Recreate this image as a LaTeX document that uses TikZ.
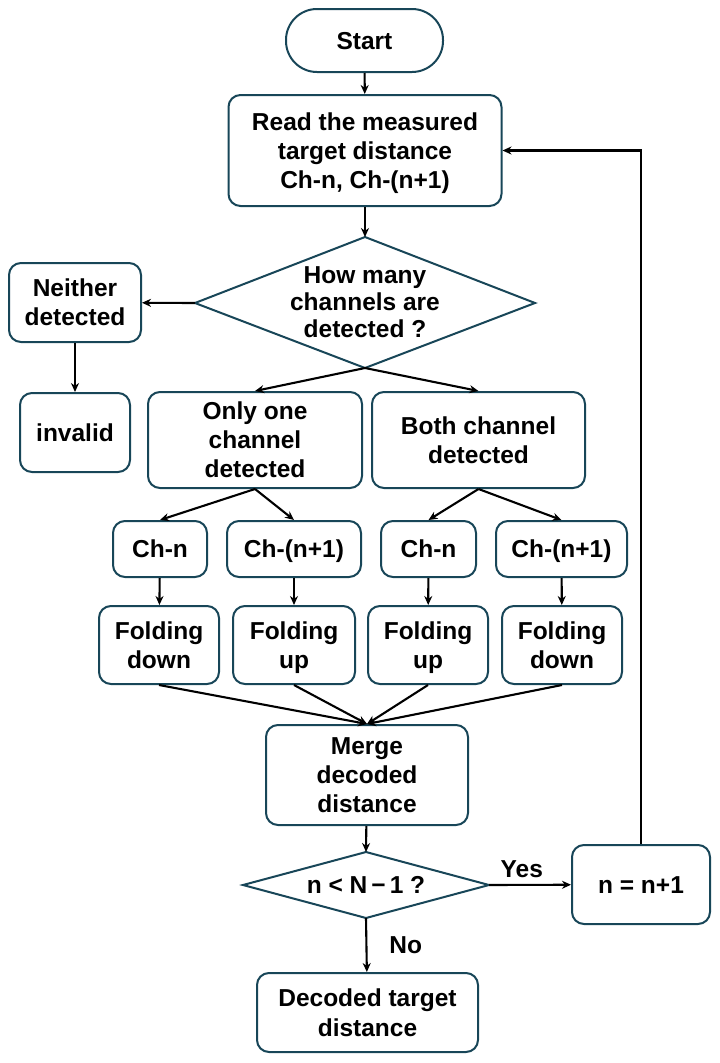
\documentclass[tikz,border=0pt]{standalone}
\usepackage{fontspec}
\setmainfont{Liberation Sans}
\usetikzlibrary{arrows.meta}
\definecolor{boxline}{RGB}{24,70,88}
\begin{document}
\begin{tikzpicture}[x=1pt,y=-1pt,
  txt/.style={font=\fontsize{24.5}{29}\selectfont\bfseries, align=center, inner sep=0pt},
  box/.style={txt, draw=boxline, line width=2pt, rounded corners=12pt, fill=white},
  one/.style={text height=17.5pt, text depth=0pt},
  diam/.style={draw=boxline, line width=2pt, fill=white, line join=miter},
  arr/.style={draw=black, line width=2.1pt, -{Stealth[length=9pt,width=8pt]}},
  lab/.style={txt}]
\useasboundingbox (0,0) rectangle (720,1063);

% nodes
\node[box, one, rounded corners=31pt, minimum width=157pt, minimum height=63pt] (start) at (364.5,40.5) {Start};
\node[box, minimum width=273pt, minimum height=111pt] (read) at (365,150.5) {Read the measured\\target distance\\\smash{Ch-n, Ch-(n+1)}};

% diamond 1
\coordinate (d1t) at (365,237);
\coordinate (d1r) at (535,303);
\coordinate (d1b) at (365,368);
\coordinate (d1l) at (195,303);
\draw[diam] (d1t) -- (d1r) -- (d1b) -- (d1l) -- cycle;
\node[txt, font=\fontsize{24.5}{27}\selectfont\bfseries] (q1) at (365,302) {How many\\channels are\\detected ?};

\node[box, minimum width=132pt, minimum height=79pt] (neither) at (75,302.5) {Neither\\detected};
\node[box, one, minimum width=110pt, minimum height=79pt] (invalid) at (75,432.5) {invalid};
\node[box, minimum width=214pt, minimum height=96pt] (only) at (255,440) {Only one\\channel\\detected};
\node[box, minimum width=213pt, minimum height=96pt] (both) at (478.5,440) {Both channel\\detected};

\node[box, one, minimum width=94pt, minimum height=56pt] (chn1) at (160,549) {Ch-n};
\node[box, one, minimum width=134pt, minimum height=56pt] (chm1) at (294,549) {Ch-(n+1)};
\node[box, one, minimum width=95pt, minimum height=56pt] (chn2) at (428.5,549) {Ch-n};
\node[box, one, minimum width=131pt, minimum height=56pt] (chm2) at (561.5,549) {Ch-(n+1)};

\node[box, minimum width=120pt, minimum height=78pt] (fd1) at (159,645) {Folding\\down};
\node[box, minimum width=122pt, minimum height=78pt] (fu1) at (294,645) {Folding\\\smash{up}};
\node[box, minimum width=120pt, minimum height=78pt] (fu2) at (428,645) {Folding\\\smash{up}};
\node[box, minimum width=120pt, minimum height=78pt] (fd2) at (562,645) {Folding\\down};

\node[box, minimum width=202pt, minimum height=100pt] (merge) at (367,775) {Merge\\decoded\\distance};

% diamond 2
\coordinate (d2t) at (366,852);
\coordinate (d2r) at (489,885);
\coordinate (d2b) at (366,918);
\coordinate (d2l) at (243,885);
\draw[diam] (d2t) -- (d2r) -- (d2b) -- (d2l) -- cycle;
\node[txt, one] (q2) at (366,885) {n < N\,−\,1 ?};

\node[box, one, minimum width=138pt, minimum height=79pt] (nn) at (641,884.5) {n = n+1};
\node[box, minimum width=221pt, minimum height=79pt, font=\fontsize{24.5}{30}\selectfont\bfseries] (dec) at (367.5,1012.5) {Decoded target\\distance};

% connectors
\draw[arr] (start) -- (read);
\draw[arr] (read) -- (d1t);
\draw[arr] (d1l) -- (neither);
\draw[arr] (neither) -- (invalid);
\draw[arr] (d1b) -- (only.north);
\draw[arr] (d1b) -- (both.north);
\draw[arr] (only.south) -- (chn1.north);
\draw[arr] (only.south) -- (chm1.north);
\draw[arr] (both.south) -- (chn2.north);
\draw[arr] (both.south) -- (chm2.north);
\draw[arr] (chn1) -- (fd1);
\draw[arr] (chm1) -- (fu1);
\draw[arr] (chn2) -- (fu2);
\draw[arr] (chm2) -- (fd2);
\draw[arr] (fd1.south) -- (merge.north);
\draw[arr] (fu1.south) -- (merge.north);
\draw[arr] (fu2.south) -- (merge.north);
\draw[arr] (fd2.south) -- (merge.north);
\draw[arr] (merge) -- (d2t);
\draw[arr] (d2r) -- (nn) node[lab, pos=0.4, above=6pt] (yes) {Yes};
\draw[arr] (d2b) -- (dec) node[lab, pos=0.5, right=22pt] (no) {No};
\draw[arr] (nn.north) |- (read.east);
\end{tikzpicture}
\end{document}
